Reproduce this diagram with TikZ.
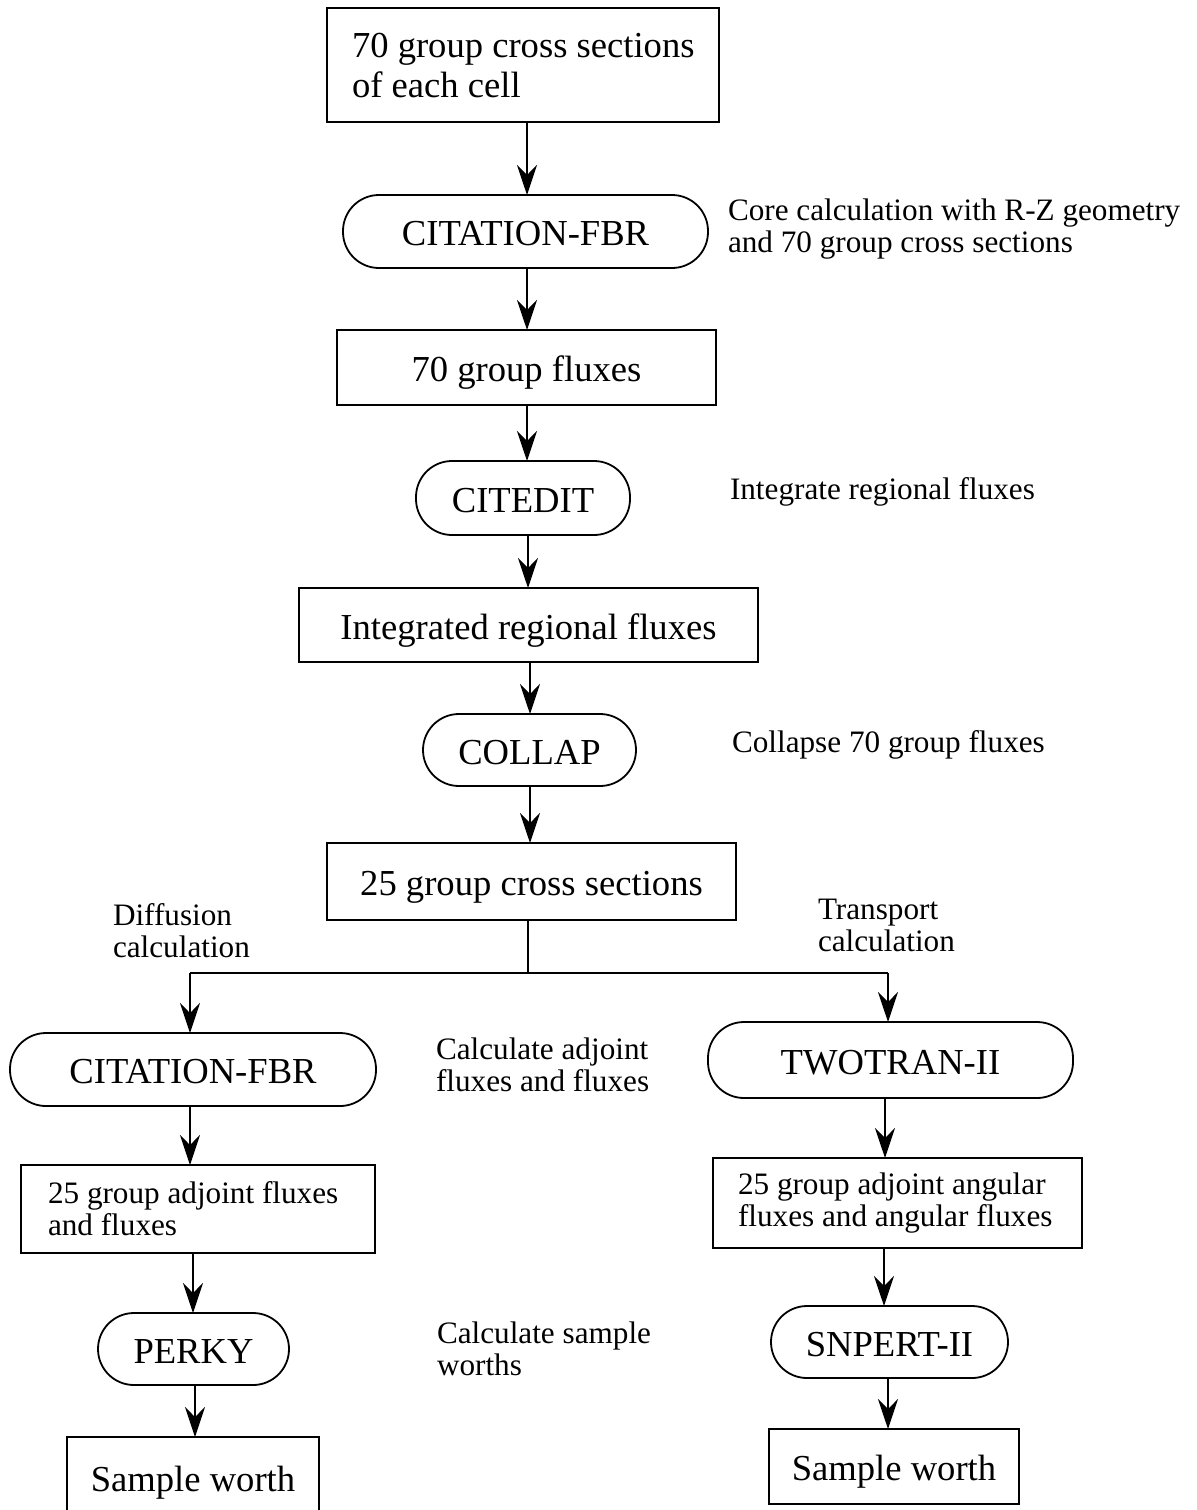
\documentclass[tikz,border=0pt]{standalone}
\usepackage{fontspec}
\setmainfont{Liberation Serif}
\usetikzlibrary{arrows.meta}
\begin{document}
\begin{tikzpicture}[x=0.5pt,y=-0.5pt,
  every node/.style={inner sep=0pt, outer sep=0pt},
  bigtext/.style={font=\fontsize{18.3}{19}\selectfont},
  smalltext/.style={font=\fontsize{15.6}{16}\selectfont},
  boxnode/.style={draw, line width=0.9pt, bigtext, align=center, text height=17pt, text depth=3pt},
  progbox/.style={draw, line width=0.9pt, rounded corners=18pt, bigtext, align=center, text height=17pt, text depth=3pt},
  note/.style={smalltext, anchor=west, align=left},
  link/.style={line width=0.9pt, -{Stealth[length=15pt, width=10pt, inset=5pt]}},
  plain/.style={line width=0.9pt}]
\useasboundingbox (0,0) rectangle (1196,1510);

\node[boxnode, minimum width=196pt, minimum height=57pt] (b1) at (523,65) {};
\node[font=\fontsize{18.3}{20}\selectfont, anchor=west, align=left] (b1t) at ([xshift=12.5pt,yshift=-0.5pt]b1.west) {70 group cross sections\\of each cell};
\node[progbox, minimum width=182.5pt, minimum height=36.5pt] (cit1) at (525.5,231.5) {CITATION-FBR};
\node[note] (n1) at (728,229) {Core calculation with R-Z geometry\\and 70 group cross sections};
\node[boxnode, minimum width=189.5pt, minimum height=37.5pt] (f70) at (526.5,367.5) {70 group fluxes};
\node[progbox, minimum width=107pt, minimum height=37pt] (ced) at (523,498) {CITEDIT};
\node[note] (n2) at (730,492) {Integrate regional fluxes};
\node[boxnode, minimum width=229.5pt, minimum height=37pt] (irf) at (528.5,625) {Integrated regional fluxes};
\node[progbox, minimum width=106.5pt, minimum height=36pt] (col) at (529.5,750) {COLLAP};
\node[note] (n3) at (732,745) {Collapse 70 group fluxes};
\node[boxnode, minimum width=204.5pt, minimum height=38.5pt] (x25) at (531.5,881.5) {25 group cross sections};

\node[note] (nd) at (113,931) {Diffusion\\calculation};
\node[note] (nt) at (818,925) {Transport\\calculation};

\node[progbox, minimum width=183pt, minimum height=36.5pt] (cit2) at (193,1069.5) {CITATION-FBR};
\node[note] (n4) at (436,1065) {Calculate adjoint\\fluxes and fluxes};
\node[progbox, minimum width=182.5pt, minimum height=38pt] (two) at (890.5,1060) {TWOTRAN-II};

\node[boxnode, minimum width=177pt, minimum height=44pt] (af) at (198,1209) {};
\node[note] (aft) at ([xshift=13.5pt]af.west) {25 group adjoint fluxes\\and fluxes};
\node[boxnode, minimum width=184.5pt, minimum height=45pt] (aaf) at (897.5,1203) {};
\node[note] (aaft) at ([xshift=12.5pt]aaf.west) {25 group adjoint angular\\fluxes and angular fluxes};

\node[progbox, minimum width=95.5pt, minimum height=36pt] (perky) at (193.5,1349) {PERKY};
\node[note] (n5) at (437,1349) {Calculate sample\\worths};
\node[progbox, minimum width=118.5pt, minimum height=36pt] (snp) at (889.5,1342) {SNPERT-II};

\node[boxnode, minimum width=126pt, minimum height=40pt] (sw1) at (193,1477) {Sample worth};
\node[boxnode, minimum width=125pt, minimum height=37.5pt] (sw2) at (894,1466.5) {Sample worth};

% main column
\draw[link] (b1.south -| 527,0) -- (cit1.north -| 527,0);
\draw[link] (cit1.south -| 527,0) -- (f70.north -| 527,0);
\draw[link] (f70.south -| 527,0) -- (ced.north -| 527,0);
\draw[link] (ced.south -| 528,0) -- (irf.north -| 528,0);
\draw[link] (irf.south -| 530,0) -- (col.north -| 530,0);
\draw[link] (col.south -| 530,0) -- (x25.north -| 530,0);

% split
\coordinate (j) at (528,973);
\coordinate (jl) at (190,973);
\coordinate (jr) at (888,973);
\draw[plain] (x25.south -| j) -- (j);
\draw[plain] (jl) -- (jr);
\draw[link] (jl) -- (cit2.north -| jl);
\draw[link] (jr) -- (two.north -| jr);

% left column
\draw[link] (cit2.south -| 190,0) -- (af.north -| 190,0);
\draw[link] (af.south -| 193,0) -- (perky.north -| 193,0);
\draw[link] (perky.south -| 195,0) -- (sw1.north -| 195,0);

% right column
\draw[link] (two.south -| 885,0) -- (aaf.north -| 885,0);
\draw[link] (aaf.south -| 884,0) -- (snp.north -| 884,0);
\draw[link] (snp.south -| 888,0) -- (sw2.north -| 888,0);
\end{tikzpicture}
\end{document}
